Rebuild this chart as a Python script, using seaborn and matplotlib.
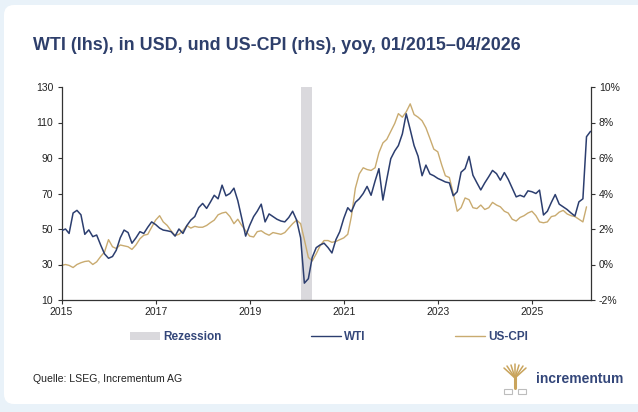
import numpy as np
import pandas as pd
import matplotlib
matplotlib.use("Agg")
import matplotlib.pyplot as plt
import seaborn as sns
from matplotlib.patches import FancyBboxPatch, Patch, Rectangle
from matplotlib.lines import Line2D
from matplotlib.transforms import IdentityTransform
from matplotlib.ticker import FuncFormatter

# ---------------- data (monthly, from 01/2015) ----------------
start_month = "2015-01-01"
wti = [49, 50, 47.5, 59, 60.5, 58, 47, 49.5, 45.7, 46.6, 41, 36,
       33.5, 34.5, 38, 45, 49.4, 48, 42, 45, 48.5, 47.5, 51, 54,
       52.5, 50.5, 49.4, 49, 48.5, 46, 50, 47.5, 52, 55, 57, 62,
       64.4, 61.6, 65, 69, 67, 74.7, 68.7, 70, 73, 66, 56, 46,
       52, 57, 60, 64, 54, 58.5, 57, 55.5, 54.5, 54, 56.5, 60,
       55, 45, 19.5, 22, 34, 39.5, 41, 42, 39.5, 36.5, 44, 48.5,
       56, 62, 59.7, 65, 67, 70, 74, 69, 77, 84, 66.3, 78,
       89.6, 94, 97, 103.6, 114.9, 106, 97, 91, 80, 86, 81, 80,
       78.5, 77.5, 76.5, 76, 68.7, 71, 82, 84, 90.9, 80.3, 76, 72,
       76, 79.5, 83, 81.2, 77.5, 81.8, 78, 73, 68.1, 69, 68.1, 71.5,
       71, 70, 71.9, 57.9, 60, 65, 69.4, 64, 62.5, 61, 59, 57.3,
       65.3, 67, 102, 105]
cpi = [-0.05, 0.0, -0.05, -0.17, 0.0, 0.1, 0.17, 0.2, 0.0, 0.15, 0.45, 0.7,
       1.4, 1.0, 0.9, 1.1, 1.05, 1.0, 0.85, 1.1, 1.45, 1.65, 1.7, 2.1,
       2.5, 2.75, 2.4, 2.2, 1.9, 1.63, 1.7, 1.9, 2.2, 2.05, 2.15, 2.1,
       2.1, 2.2, 2.35, 2.5, 2.8, 2.9, 2.95, 2.7, 2.3, 2.55, 2.2, 1.9,
       1.6, 1.55, 1.85, 1.9, 1.75, 1.65, 1.8, 1.75, 1.7, 1.8, 2.05, 2.3,
       2.5, 2.3, 1.4, 0.4, 0.2, 0.6, 1.05, 1.35, 1.35, 1.25, 1.3, 1.4,
       1.5, 1.7, 2.7, 4.3, 5.1, 5.45, 5.35, 5.3, 5.45, 6.3, 6.85, 7.05,
       7.5, 7.95, 8.5, 8.3, 8.6, 9.05, 8.45, 8.3, 8.1, 7.7, 7.1, 6.5,
       6.35, 5.6, 5.0, 4.9, 4.0, 3.0, 3.2, 3.75, 3.65, 3.2, 3.15, 3.35,
       3.1, 3.2, 3.5, 3.35, 3.25, 3.0, 2.9, 2.55, 2.45, 2.65, 2.75, 2.9,
       3.0, 2.75, 2.4, 2.35, 2.4, 2.7, 2.75, 2.95, 3.05, 2.85, 2.75, 2.7,
       2.55, 2.4, 3.25]
recession = ("2020-02-01", "2020-05-01")
year_ticks = [2015, 2017, 2019, 2021, 2023, 2025]
left_ticks = [10, 30, 50, 70, 90, 110, 130]
right_ticks = [-2, 0, 2, 4, 6, 8, 10]

title = "WTI (lhs), in USD, und US-CPI (rhs), yoy, 01/2015\u201304/2026"
source = "Quelle: LSEG, Incrementum AG"

# ---------------- style ----------------
NAVY = "#2c3e6f"
TAN = "#c9ab70"
REC = "#dad9dd"
TXT = "#222222"
BG = "#e9f2f9"

sns.set_style("white")
plt.rcParams["font.family"] = ["Liberation Sans", "DejaVu Sans"]
plt.rcParams["axes.unicode_minus"] = False

W, H = 638, 412
fig = plt.figure(figsize=(W / 100, H / 100), dpi=100)
fig.patch.set_facecolor(BG)

card = FancyBboxPatch((4, H - 404), 720, 399,
                      boxstyle="round,pad=0,rounding_size=10",
                      transform=IdentityTransform(), fc="white", ec="none", zorder=0)
fig.add_artist(card)

x_left, x_right, y_top, y_bot = 61.5, 590.5, 87, 300
ax = fig.add_axes([x_left / W, (H - y_bot) / H, (x_right - x_left) / W, (y_bot - y_top) / H])
ax2 = ax.twinx()
ax.set_zorder(3)
ax2.set_zorder(2)
ax.patch.set_visible(False)
ax2.patch.set_visible(False)

dates_w = pd.date_range(start_month, periods=len(wti), freq="MS")
dates_c = pd.date_range(start_month, periods=len(cpi), freq="MS")

ax2.axvspan(pd.Timestamp(recession[0]), pd.Timestamp(recession[1]), color=REC, lw=0, zorder=0)
sns.lineplot(x=dates_c, y=cpi, ax=ax2, color=TAN, lw=1.0, legend=False, zorder=2)
sns.lineplot(x=dates_w, y=wti, ax=ax, color=NAVY, lw=1.1, legend=False, zorder=3)

ax.set_xlim(dates_w[0], dates_w[-1])
ax.set_ylim(10, 130)
ax2.set_ylim(-2, 10)
ax.set_yticks(left_ticks)
ax.set_yticklabels([str(v) for v in left_ticks])
ax2.set_yticks(right_ticks)
ax2.yaxis.set_major_formatter(FuncFormatter(lambda v, p: f"{v:.0f}%"))
ax.set_xticks([pd.Timestamp(f"{y}-01-01") for y in year_ticks])
ax.set_xticklabels([str(y) for y in year_ticks])
ax.set_xlabel("")
ax.set_ylabel("")
ax2.set_ylabel("")

for a in (ax, ax2):
    for s in a.spines.values():
        s.set_color("#333333")
        s.set_linewidth(0.9)
    a.spines["top"].set_visible(False)
    a.grid(False)
ax.spines["right"].set_visible(False)
ax2.spines["left"].set_visible(False)
ax2.spines["bottom"].set_visible(False)

ax.tick_params(axis="y", direction="out", length=3, width=0.8, color="#333333",
               labelsize=7.5, labelcolor=TXT, pad=3, left=True)
ax.tick_params(axis="x", direction="out", length=3, width=0.8, color="#333333",
               labelsize=7.5, labelcolor=TXT, pad=2, bottom=True)
ax2.tick_params(axis="y", direction="out", length=3, width=0.8, color="#333333",
                labelsize=7.5, labelcolor=TXT, pad=3, right=True)

# title & footer
fig.text(33 / W, 1 - 45 / H, title, fontsize=12.9, weight="bold", color="#2e3f6b",
         va="center", ha="left")
fig.text(33 / W, 1 - 379 / H, source, fontsize=7.6, color=TXT, va="center", ha="left")

# legend
handles = [Patch(fc=REC, ec="none", label="Rezession"),
           Line2D([], [], color=NAVY, lw=1.0, label="WTI"),
           Line2D([], [], color=TAN, lw=1.0, label="US-CPI")]
fig.legend(handles=handles, loc="center", bbox_to_anchor=(0.516, 1 - 337 / H), ncol=3,
           frameon=False, prop=dict(weight="bold", size=8.5), labelcolor="#34477a",
           handlelength=2.5, handleheight=0.6, handletextpad=0.3, columnspacing=7.6)

# logo (tree + wordmark)
T = IdentityTransform()
gold = "#c9a45c"
cx, base, fork = 515, 388, 377
fig.add_artist(Line2D([cx, cx], [H - base, H - fork], color=gold, lw=2.2, transform=T))
for ex, ey in [(504, 368), (507, 366), (511, 365), (515, 364), (519, 365), (523, 366), (526, 368)]:
    fig.add_artist(Line2D([cx, ex], [H - fork - 1, H - ey], color=gold, lw=1.1, transform=T))
for bx in (504, 518):
    fig.add_artist(Rectangle((bx, H - 394), 8, 5, fc="none", ec="#bdbdbd", lw=0.8, transform=T))
fig.text(536 / W, 1 - 379 / H, "incrementum", fontsize=10, weight="bold", color="#34477a",
         va="center", ha="left")

fig.savefig("out.png", dpi=100, facecolor=fig.get_facecolor())
